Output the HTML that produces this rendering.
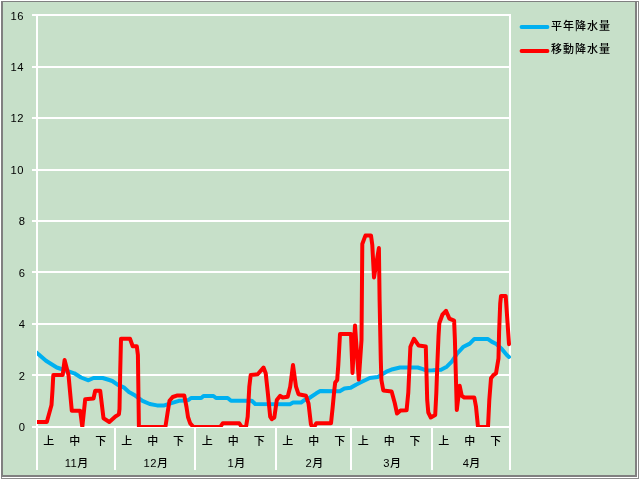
<!DOCTYPE html>
<html lang="ja"><head><meta charset="utf-8"><title>降水量</title>
<style>
html,body{margin:0;padding:0;background:#fff;}
body{width:640px;height:480px;overflow:hidden;position:relative;}
svg{position:absolute;left:0;top:0;display:block;}
text{font-family:"Liberation Sans", "Noto Sans CJK JP", sans-serif;fill:#000;}
.num{font-size:11.2px;letter-spacing:0.5px;}
.cat{font-size:11px;font-weight:500;}
.leg{font-size:11px;font-weight:500;letter-spacing:1px;}
</style></head><body>
<svg width="640" height="480" viewBox="0 0 640 480">
<rect x="0" y="0" width="640" height="480" fill="#ffffff"/>
<rect x="1" y="1" width="638" height="478" fill="#8c8c8c"/>
<rect x="2" y="2" width="636" height="476" fill="#ffffff"/>
<rect x="1" y="1" width="636" height="476" fill="#808080"/>
<rect x="3" y="2" width="632" height="473" fill="#c7e0c9"/>
<g fill="#ffffff" shape-rendering="crispEdges">
<rect x="32" y="14" width="479" height="2"/>
<rect x="32" y="66" width="479" height="2"/>
<rect x="32" y="117" width="479" height="2"/>
<rect x="32" y="169" width="479" height="2"/>
<rect x="32" y="220" width="479" height="2"/>
<rect x="32" y="271" width="479" height="2"/>
<rect x="32" y="323" width="479" height="2"/>
<rect x="32" y="374" width="479" height="2"/>
<rect x="32" y="426" width="479" height="2"/>
<rect x="36" y="14" width="2" height="456"/>
<rect x="114" y="426" width="2" height="44"/>
<rect x="194" y="426" width="2" height="44"/>
<rect x="275" y="426" width="2" height="44"/>
<rect x="350" y="426" width="2" height="44"/>
<rect x="431" y="426" width="2" height="44"/>
<rect x="509" y="14" width="2" height="456"/>
</g>
<defs><clipPath id="pc"><rect x="37" y="15" width="476" height="412"/></clipPath></defs>
<g clip-path="url(#pc)" fill="none" stroke-linejoin="round" stroke-linecap="round" stroke-width="4">
<polyline stroke="#00b0f0" points="36.5,352.6 38.5,354.2 46,360.8 56.8,367.5 64.3,370 74.3,373.3 81,377.5 88.5,380.3 93.5,378 102.7,378 109.3,380 112.25,381 117.5,384.6 123.7,387.3 128.9,392 135.2,395.6 142.5,400.8 149.75,404 157,405.4 164.3,405.4 170.6,403.3 178.9,400.8 186,400.5 188.5,400 191,398 201.2,398 203.5,396 213.5,396 216,398 227.7,398 231,400.8 251.8,400.8 255.2,404 290,404.2 293,402.6 301,402.6 304,400.3 309.3,398 316.3,393.3 320.2,391 339.75,391.2 344.4,388.6 350.7,387.8 356,384.7 361.4,382 369.75,378 378,376.9 386.4,371.7 392.7,369.2 400,367.5 417.7,367.5 422.9,369.2 426,370.5 432.7,370.3 441,369.7 446.8,366.7 451.8,361.7 457.25,353.5 463.5,346.7 469.75,343.6 474.4,338.9 487.7,338.9 491.6,341.6 496.3,344 501.8,349 506.8,355 509,357"/>
<polyline stroke="#ff0000" points="36,422 46.8,422 49.3,413 51.5,405 52.5,390 53.3,375 62.7,375 64.6,360 68.5,375 71.8,410.8 80.2,410.8 82.3,427 85.2,399.2 93.5,398.5 95.2,390.8 100.2,390.8 103.5,418.3 109.3,422 115.4,416.5 118.9,414.4 119.5,409 120.2,371.7 121,338.75 130,338.75 132.7,346.25 136.8,346.25 137.9,355 138.9,427 165.4,427 167.5,413.3 169.5,400.8 172.7,397 176.8,395.6 184.3,395.6 186.5,407 188,417 190.2,423.3 193.5,427 220.2,427 222.7,423.3 239.3,423.3 241.8,427 246,427 247.7,416.7 249.3,386.7 250.7,375 257.7,374.2 263.5,367.5 265.7,373.3 267.7,391.7 270.2,416.7 271.8,419.2 274.3,417.5 276.8,400 280.2,395.8 282.7,397.5 287.7,396.7 290.2,386.7 293,365 296,386.7 298.5,394.2 306,395.8 308.5,403.3 310.9,424 312,427 314.2,427 316.3,423.3 331,423.2 332.7,407 334.2,391 335.2,382.5 337.2,380 338.3,365 340,334 351,334 352.5,373 355,325.5 358.8,379.5 361.5,340 362.3,244 365.4,235.6 371,235.6 372.3,245 374,277.5 378.9,248 379.6,300 380.8,360 381.4,380 383.3,390.4 391.6,391.5 394.75,403 397,413.5 400.5,410.4 406.6,410.2 408.3,392.5 410.4,346.7 413.9,338.75 418.7,345.6 425.8,346.5 426.4,370 427.2,400 428.3,412.5 430.8,417.5 435.2,415 436.3,393.3 437.3,365 438.5,336.6 439.3,323.3 442.4,314.7 446,310.8 449.4,318.6 454.1,320.6 454.9,339.7 455.7,370 456.8,410 459.7,385.8 461.8,395.8 464.3,397.5 474.3,397.5 476,406.7 478,427 488,427 489.3,400 491,378.3 493.5,375 496,373.3 498.5,358.3 499.1,331.9 500.2,303.75 501,296 505.7,296 509,344.2"/>
</g>
<text class="num" x="24.0" y="20.2" text-anchor="end">16</text>
<text class="num" x="24.0" y="70.85" text-anchor="end">14</text>
<text class="num" x="24.0" y="122.3" text-anchor="end">12</text>
<text class="num" x="24.0" y="173.75" text-anchor="end">10</text>
<text class="num" x="25.4" y="225.2" text-anchor="end">8</text>
<text class="num" x="25.4" y="276.65" text-anchor="end">6</text>
<text class="num" x="25.4" y="328.1" text-anchor="end">4</text>
<text class="num" x="25.4" y="379.55" text-anchor="end">2</text>
<text class="num" x="25.4" y="431" text-anchor="end">0</text>
<text class="cat" x="48.7" y="444.8" text-anchor="middle">上</text>
<text class="cat" x="74.7" y="444.8" text-anchor="middle">中</text>
<text class="cat" x="100.7" y="444.8" text-anchor="middle">下</text>
<text class="cat" x="76.5" y="466.8" text-anchor="middle"><tspan class="num">11</tspan>月</text>
<text class="cat" x="126.7" y="444.8" text-anchor="middle">上</text>
<text class="cat" x="152.7" y="444.8" text-anchor="middle">中</text>
<text class="cat" x="178.6" y="444.8" text-anchor="middle">下</text>
<text class="cat" x="155.8" y="466.8" text-anchor="middle"><tspan class="num">12</tspan>月</text>
<text class="cat" x="207.2" y="444.8" text-anchor="middle">上</text>
<text class="cat" x="233.2" y="444.8" text-anchor="middle">中</text>
<text class="cat" x="259.2" y="444.8" text-anchor="middle">下</text>
<text class="cat" x="236.3" y="466.8" text-anchor="middle"><tspan class="num">1</tspan>月</text>
<text class="cat" x="287.8" y="444.8" text-anchor="middle">上</text>
<text class="cat" x="313.8" y="444.8" text-anchor="middle">中</text>
<text class="cat" x="339.8" y="444.8" text-anchor="middle">下</text>
<text class="cat" x="314.3" y="466.8" text-anchor="middle"><tspan class="num">2</tspan>月</text>
<text class="cat" x="363.2" y="444.8" text-anchor="middle">上</text>
<text class="cat" x="389.2" y="444.8" text-anchor="middle">中</text>
<text class="cat" x="415.1" y="444.8" text-anchor="middle">下</text>
<text class="cat" x="392.2" y="466.8" text-anchor="middle"><tspan class="num">3</tspan>月</text>
<text class="cat" x="443.7" y="444.8" text-anchor="middle">上</text>
<text class="cat" x="469.7" y="444.8" text-anchor="middle">中</text>
<text class="cat" x="495.7" y="444.8" text-anchor="middle">下</text>
<text class="cat" x="471.5" y="466.8" text-anchor="middle"><tspan class="num">4</tspan>月</text>
<g fill="none" stroke-linecap="round" stroke-width="3.8">
<line x1="521.5" y1="27" x2="547.5" y2="27" stroke="#00b0f0"/>
<line x1="521.5" y1="51" x2="547.5" y2="51" stroke="#ff0000"/>
</g>
<text class="leg" x="551" y="30.4">平年降水量</text>
<text class="leg" x="551" y="53.4">移動降水量</text>
</svg></body></html>
